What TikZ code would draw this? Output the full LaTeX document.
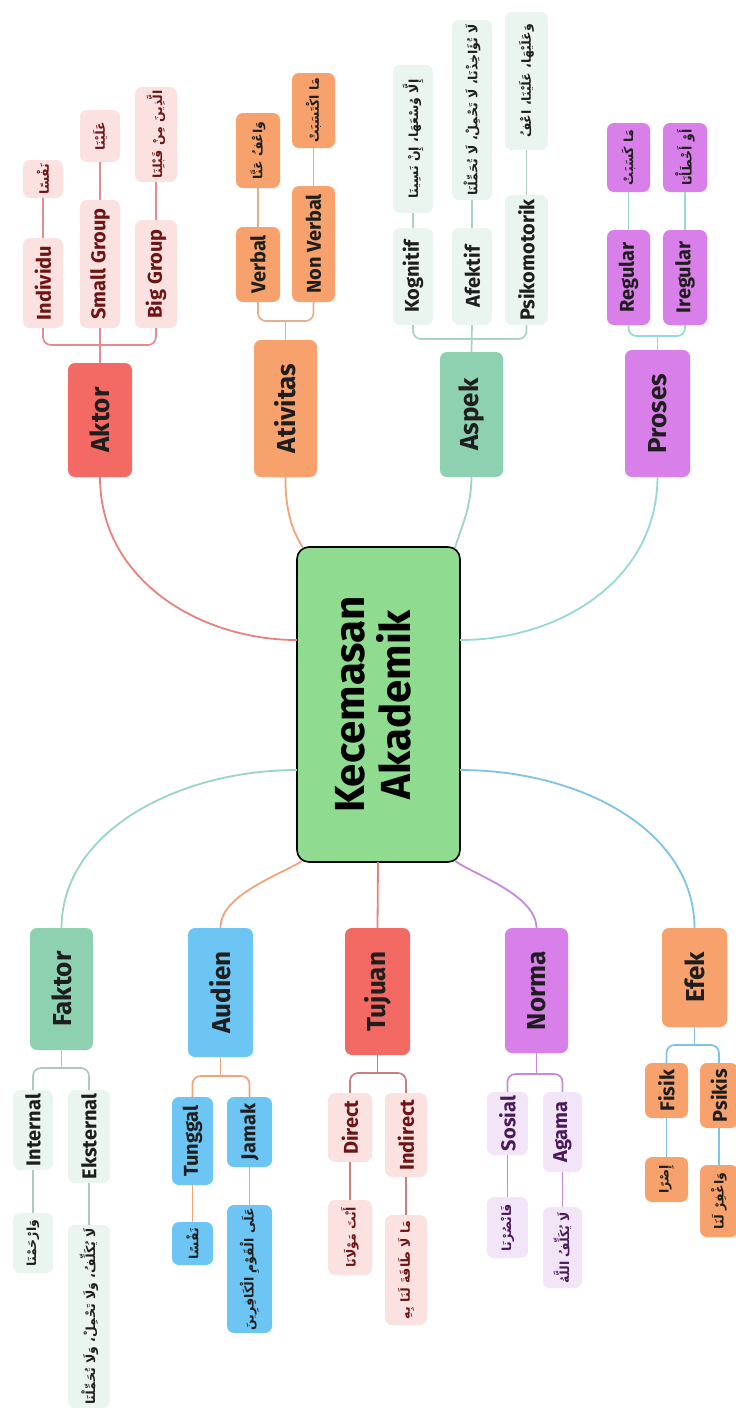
\documentclass[tikz,border=0pt]{standalone}
\usepackage{graphicx}
\usepackage{fontspec}
\setmainfont{Fira Sans}
\newfontfamily\arabicfont[Script=Arabic]{DejaVu Sans}
\TeXXeTstate=1
\newcommand{\ar}[1]{{\arabicfont\bfseries\beginR #1\endR}}
\definecolor{cRed}{HTML}{F26A63}
\definecolor{cOrange}{HTML}{F7A26D}
\definecolor{cGreen}{HTML}{8ED1B0}
\definecolor{cViolet}{HTML}{D97FE9}
\definecolor{cBlue}{HTML}{6CC5F2}
\definecolor{cCenter}{HTML}{8FDB90}
\definecolor{cPink}{HTML}{FBE1E0}
\definecolor{cMint}{HTML}{E9F5EE}
\definecolor{cLav}{HTML}{F3E5F8}
\definecolor{tRed}{HTML}{6E1414}
\definecolor{tDark}{HTML}{1E1E1E}
\definecolor{tPurple}{HTML}{4A1A5A}
\definecolor{lRed}{HTML}{E8817B}
\definecolor{lOrange}{HTML}{F0A47A}
\definecolor{lTeal}{HTML}{9AD4C4}
\definecolor{lCyan}{HTML}{96D8D4}
\definecolor{lViolet}{HTML}{C58BD9}
\definecolor{lBlue}{HTML}{7CC3E6}
\definecolor{sRed}{HTML}{E58A8E}
\definecolor{sTan}{HTML}{E3B08F}
\definecolor{sGreen}{HTML}{A9D3C3}
\definecolor{sGray}{HTML}{AFC9C0}
\definecolor{sMauve}{HTML}{C97F7F}
\tikzset{
  box/.style={rounded corners=7pt, inner sep=0pt, align=center},
  mainbox/.style={box, fill=#1, text=tDark, font=\bfseries\fontsize{26}{28}\selectfont},
  kidbox/.style 2 args={box, fill=#1, text=#2, font=\bfseries\fontsize{20}{22}\selectfont},
  arbox/.style 2 args={box, fill=#1, text=#2, font=\fontsize{12.5}{15}\selectfont},
  trunk/.style={draw=#1, line width=1.8pt},
  sub/.style={draw=#1, line width=1.7pt, rounded corners=8pt}
}
\newcommand{\bxr}[7]{\node[#2, minimum width={(#4-#3)*1pt}, minimum height={(#6-#5)*1pt}] (#1) at ({(#3+#4)/2},{(#5+#6)/2}) {\rotatebox{90}{#7}};}
\begin{document}
\begin{tikzpicture}[x=1pt,y=-1pt]
\useasboundingbox[fill=white] (0,0) rectangle (736,1414);
% center
\node[box, rounded corners=12pt, fill=cCenter, draw=black, line width=1.6pt, minimum width=163pt, minimum height=315pt, font=\bfseries\fontsize{42}{47}\selectfont] (c) at (378.5,704.5) {\rotatebox{90}{\begin{tabular}{@{}c@{}}Kecemasan\\[-2pt]Akademik\end{tabular}}};
\coordinate (cL1) at (297,640);
\coordinate (cL2) at (297,770);
\coordinate (cR1) at (460,640);
\coordinate (cR2) at (460,770);
\coordinate (cT1) at (303,548);
\coordinate (cT2) at (455,548);
\coordinate (cB1) at (302,861);
\coordinate (cB2) at (378,862);
\coordinate (cB3) at (455,861);
% main nodes top
\bxr{aktor}{mainbox=cRed}{68}{132}{363}{477}{Aktor}
\bxr{ativ}{mainbox=cOrange}{254}{317}{340}{477}{Ativitas}
\bxr{aspek}{mainbox=cGreen}{440}{503}{352}{477}{Aspek}
\bxr{proses}{mainbox=cViolet}{625}{690}{350}{477}{Proses}
% main nodes bottom
\bxr{faktor}{mainbox=cGreen}{30}{93}{928}{1050}{Faktor}
\bxr{audien}{mainbox=cBlue}{188}{253}{928}{1057}{Audien}
\bxr{tujuan}{mainbox=cRed}{345}{410}{928}{1055}{Tujuan}
\bxr{norma}{mainbox=cViolet}{505}{568}{928}{1053}{Norma}
\bxr{efek}{mainbox=cOrange}{662}{727}{928}{1027}{Efek}
% trunk connectors
\draw[trunk=lRed] (aktor.south) .. controls (100,580) and (200,640) .. (cL1);
\draw[trunk=lOrange] (ativ.south) .. controls (285,515) and (295,535) .. (cT1);
\draw[trunk=lTeal] (aspek.south) .. controls (471,510) and (460,530) .. (cT2);
\draw[trunk=lCyan] (proses.south) .. controls (657,580) and (560,640) .. (cR1);
\draw[trunk=lTeal] (faktor.north) .. controls (62,830) and (180,770) .. (cL2);
\draw[trunk=lOrange] (audien.north) .. controls (220,895) and (280,875) .. (cB1);
\draw[trunk=lRed] (tujuan.north) -- (cB2);
\draw[trunk=lViolet] (norma.north) .. controls (536,895) and (475,875) .. (cB3);
\draw[trunk=lBlue] (efek.north) .. controls (694,830) and (580,770) .. (cR2);
% Aktor children
\bxr{ind}{kidbox={cPink}{tRed}}{23}{63}{238}{328}{Individu}
\bxr{indA}{arbox={cPink}{tRed}}{23}{63}{160}{198}{\ar{نَفْسًا}}
\bxr{sg}{kidbox={cPink}{tRed}}{80}{120}{200}{328}{Small Group}
\bxr{sgA}{arbox={cPink}{tRed}}{80}{120}{110}{162}{\ar{عَلَيْنَا}}
\bxr{bg}{kidbox={cPink}{tRed}}{135}{177}{220}{328}{Big Group}
\bxr{bgA}{arbox={cPink}{tRed}}{135}{177}{87}{182}{\ar{الَّذِينَ مِنْ قَبْلِنَا}}
\coordinate (akb) at (100,345);
\draw[sub=sRed] (ind.south) |- (akb) -| (bg.south);
\draw[sub=sRed] (sg.south) -- (aktor.north);
\draw[sub=sRed] (ind.north) -- (indA.south);
\draw[sub=sRed] (sg.north) -- (sgA.south);
\draw[sub=sRed] (bg.north) -- (bgA.south);
% Ativitas children
\bxr{verb}{kidbox={cOrange}{tDark}}{236}{280}{227}{302}{Verbal}
\bxr{verbA}{arbox={cOrange}{tDark}}{236}{280}{113}{188}{\ar{وَاعْفُ عَنَّا}}
\bxr{nverb}{kidbox={cOrange}{tDark}}{292}{335}{186}{302}{Non Verbal}
\bxr{nverbA}{arbox={cOrange}{tDark}}{292}{335}{73}{148}{\ar{مَا اكْتَسَبَتْ}}
\coordinate (atb) at (285.5,321);
\draw[sub=sTan] (verb.south) |- (atb) -| (nverb.south);
\draw[sub=sTan] (ativ.north) -- (atb);
\draw[sub=sTan] (verb.north) -- (verbA.south);
\draw[sub=sTan] (nverb.north) -- (nverbA.south);
% Aspek children
\bxr{kog}{kidbox={cMint}{tDark}}{393}{433}{228}{325}{Kognitif}
\bxr{kogA}{arbox={cMint}{tDark}}{393}{433}{65}{213}{\ar{إِلَّا وُسْعَهَا، إِنْ نَسِينَا}}
\bxr{afe}{kidbox={cMint}{tDark}}{452}{492}{228}{325}{Afektif}
\bxr{afeA}{arbox={cMint}{tDark}}{452}{492}{20}{200}{\ar{لَا تُؤَاخِذْنَا، لَا تَحْمِلْ، لَا تُحَمِّلْنَا}}
\bxr{psi}{kidbox={cMint}{tDark}}{505}{548}{195}{325}{Psikomotorik}
\bxr{psiA}{arbox={cMint}{tDark}}{505}{548}{12}{150}{\ar{وَعَلَيْهَا، عَلَيْنَا، اعْفُ}}
\coordinate (asb) at (472,339);
\draw[sub=sGreen] (kog.south) |- (asb) -| (psi.south);
\draw[sub=sGreen] (afe.south) -- (aspek.north);
\draw[sub=sGreen] (kog.north) -- (kogA.south);
\draw[sub=sGreen] (afe.north) -- (afeA.south);
\draw[sub=sGreen] (psi.north) -- (psiA.south);
% Proses children
\bxr{reg}{kidbox={cViolet}{tDark}}{607}{650}{230}{325}{Regular}
\bxr{regA}{arbox={cViolet}{tDark}}{607}{650}{123}{192}{\ar{مَا كَسَبَتْ}}
\bxr{ireg}{kidbox={cViolet}{tDark}}{663}{707}{230}{325}{Iregular}
\bxr{iregA}{arbox={cViolet}{tDark}}{663}{707}{123}{192}{\ar{أَوْ أَخْطَأْنَا}}
\coordinate (prb) at (657.5,336);
\draw[sub=lCyan] (reg.south) |- (prb) -| (ireg.south);
\draw[sub=lCyan] (proses.north) -- (prb);
\draw[sub=lCyan] (reg.north) -- (regA.south);
\draw[sub=lCyan] (ireg.north) -- (iregA.south);
% Faktor children
\bxr{int}{kidbox={cMint}{tDark}}{13}{53}{1090}{1170}{Internal}
\bxr{intA}{arbox={cMint}{tDark}}{13}{53}{1213}{1273}{\ar{وَارْحَمْنَا}}
\bxr{eks}{kidbox={cMint}{tDark}}{68}{110}{1090}{1183}{Eksternal}
\bxr{eksA}{arbox={cMint}{tDark}}{68}{110}{1225}{1408}{\ar{لَا يُكَلِّفُ، وَلَا تَحْمِلْ، وَلَا تُحَمِّلْنَا}}
\coordinate (fkb) at (61.5,1068);
\draw[sub=sGray] (int.north) |- (fkb) -| (eks.north);
\draw[sub=sGray] (faktor.south) -- (fkb);
\draw[sub=sGray] (int.south) -- (intA.north);
\draw[sub=sGray] (eks.south) -- (eksA.north);
% Audien children
\bxr{tung}{kidbox={cBlue}{tDark}}{172}{213}{1097}{1185}{Tunggal}
\bxr{tungA}{arbox={cBlue}{tDark}}{172}{213}{1222}{1265}{\ar{نَفْسًا}}
\bxr{jam}{kidbox={cBlue}{tDark}}{227}{272}{1097}{1167}{Jamak}
\bxr{jamA}{arbox={cBlue}{tDark}}{227}{272}{1205}{1333}{\ar{عَلَى الْقَوْمِ الْكَافِرِينَ}}
\coordinate (aub) at (220.5,1076);
\draw[sub=lOrange] (tung.north) |- (aub) -| (jam.north);
\draw[sub=lOrange] (audien.south) -- (aub);
\draw[sub=lOrange] (tung.south) -- (tungA.north);
\draw[sub=lOrange] (jam.south) -- (jamA.north);
% Tujuan children
\bxr{dir}{kidbox={cPink}{tRed}}{328}{372}{1093}{1162}{Direct}
\bxr{dirA}{arbox={cPink}{tRed}}{328}{372}{1200}{1275}{\ar{أَنْتَ مَوْلَانَا}}
\bxr{indr}{kidbox={cPink}{tRed}}{385}{427}{1093}{1177}{Indirect}
\bxr{indrA}{arbox={cPink}{tRed}}{385}{427}{1215}{1325}{\ar{مَا لَا طَاقَةَ لَنَا بِهِ}}
\coordinate (tjb) at (377.5,1073);
\draw[sub=sMauve] (dir.north) |- (tjb) -| (indr.north);
\draw[sub=sMauve] (tujuan.south) -- (tjb);
\draw[sub=sMauve] (dir.south) -- (dirA.north);
\draw[sub=sMauve] (indr.south) -- (indrA.north);
% Norma children
\bxr{sos}{kidbox={cLav}{tPurple}}{487}{528}{1092}{1155}{Sosial}
\bxr{sosA}{arbox={cLav}{tPurple}}{487}{528}{1197}{1258}{\ar{فَانْصُرْنَا}}
\bxr{aga}{kidbox={cLav}{tPurple}}{543}{582}{1092}{1172}{Agama}
\bxr{agaA}{arbox={cLav}{tPurple}}{543}{582}{1207}{1288}{\ar{لَا يُكَلِّفُ اللَّهُ}}
\coordinate (nob) at (536.5,1074);
\draw[sub=lViolet] (sos.north) |- (nob) -| (aga.north);
\draw[sub=lViolet] (norma.south) -- (nob);
\draw[sub=lViolet] (sos.south) -- (sosA.north);
\draw[sub=lViolet] (aga.south) -- (agaA.north);
% Efek children
\bxr{fis}{kidbox={cOrange}{tDark}}{645}{688}{1063}{1118}{Fisik}
\bxr{fisA}{arbox={cOrange}{tDark}}{645}{688}{1157}{1202}{\ar{إِصْرًا}}
\bxr{psk}{kidbox={cOrange}{tDark}}{700}{738}{1063}{1128}{Psikis}
\bxr{pskA}{arbox={cOrange}{tDark}}{700}{738}{1165}{1237}{\ar{وَاغْفِرْ لَنَا}}
\coordinate (efb) at (694.5,1045);
\draw[sub=lBlue] (fis.north) |- (efb) -| (psk.north);
\draw[sub=lBlue] (efek.south) -- (efb);
\draw[sub=lBlue] (fis.south) -- (fisA.north);
\draw[sub=lBlue] (psk.south) -- (pskA.north);
\end{tikzpicture}
\end{document}
